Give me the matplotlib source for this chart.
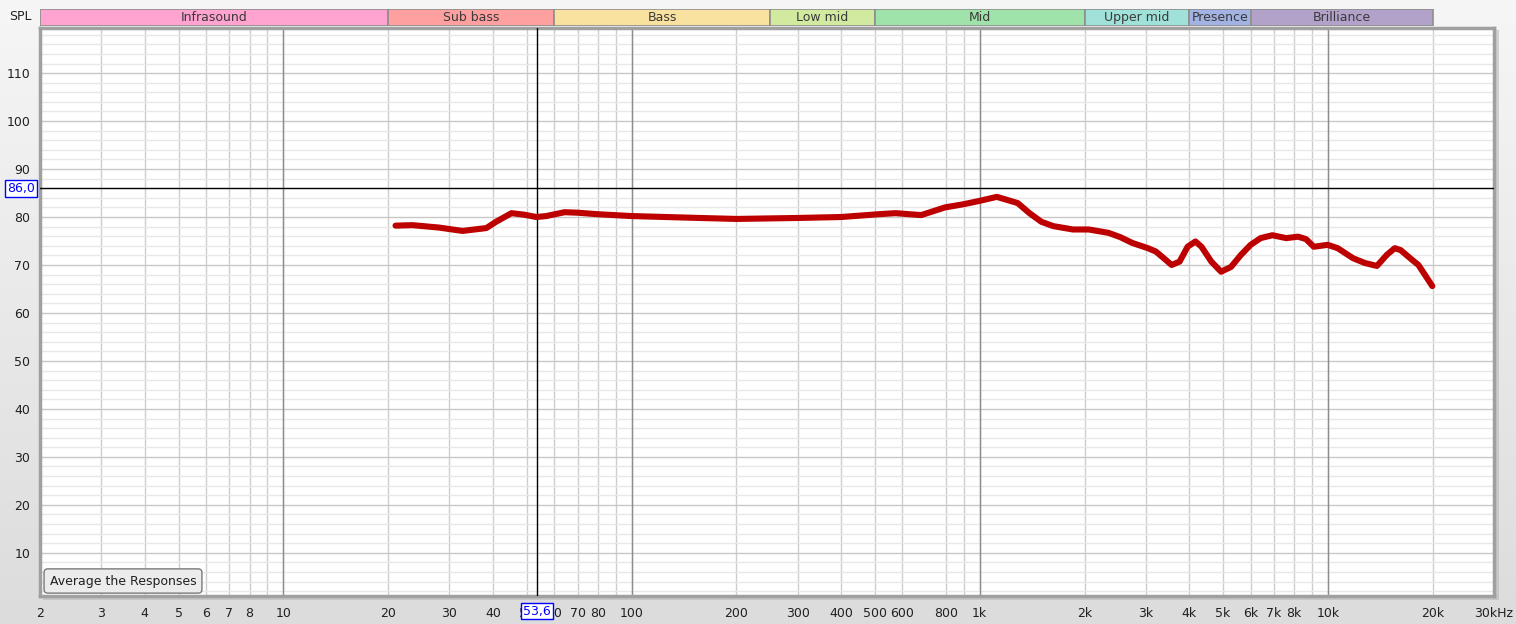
import matplotlib
matplotlib.use("Agg")
import matplotlib.pyplot as plt
from matplotlib.patches import Rectangle
from matplotlib.transforms import blended_transform_factory
import numpy as np

plt.rcParams['font.family'] = ['DejaVu Sans']

##### Dados #####
freq = [21, 23.5, 28, 32.7, 38.3, 40.8, 45.2, 49, 53.3, 56.9, 64.2, 70, 79.2, 100,
        157, 200, 300, 400, 516, 573, 679, 795, 904, 1004, 1120, 1286, 1390, 1504,
        1627, 1853, 2058, 2343, 2535, 2742, 3042, 3206, 3380, 3558, 3750, 3954,
        4165, 4335, 4627, 4934, 5270, 5627, 6000, 6410, 6930, 7590, 8210, 8650,
        9110, 9980, 10670, 11820, 12790, 13830, 14760, 15560, 16180, 17500, 18200,
        19950]
spl = [78.2, 78.3, 77.8, 77.1, 77.7, 79.0, 80.8, 80.5, 80.0, 80.2, 81.0, 80.9, 80.6, 80.2,
       79.8, 79.6, 79.8, 80.0, 80.6, 80.8, 80.4, 82.0, 82.7, 83.4, 84.2, 82.9, 80.8, 79.0,
       78.1, 77.4, 77.4, 76.7, 75.8, 74.6, 73.5, 72.8, 71.4, 70.0, 70.7, 73.8,
       74.9, 73.8, 70.7, 68.6, 69.6, 72.1, 74.2, 75.6, 76.2, 75.6, 75.9, 75.4,
       73.8, 74.2, 73.5, 71.4, 70.4, 69.8, 72.1, 73.5, 73.1, 71.0, 70.0,
       65.6]

bandNames = ['Infrasound', 'Sub bass', 'Bass', 'Low mid', 'Mid', 'Upper mid', 'Presence', 'Brilliance']
bandEdges = [2, 20, 60, 250, 500, 2000, 4000, 6000, 20000]
bandColors = ['#ffa3d1', '#ffa0a0', '#f9e1a0', '#d2eaa0', '#a0e3aa', '#a0e1d9', '#a2b2e2', '#b2a2c9']

xTicks = [2, 3, 4, 5, 6, 7, 8, 10, 20, 30, 40, 50, 60, 70, 80, 100, 200, 300, 400, 500, 600,
          800, 1000, 2000, 3000, 4000, 5000, 6000, 7000, 8000, 10000, 20000, 30000]
xLabels = ['2', '3', '4', '5', '6', '7', '8', '10', '20', '30', '40', '50', '60', '70', '80',
           '100', '200', '300', '400', '500', '600', '800', '1k', '2k', '3k', '4k', '5k', '6k',
           '7k', '8k', '10k', '20k', '30kHz']
xExtra = [9, 90, 900, 9000]
decades = [10, 100, 1000, 10000]
yTicks = [10, 20, 30, 40, 50, 60, 70, 80, 90, 100, 110]

cursorX = 53.6
cursorY = 86.0

##### Figura #####
W, H = 1516, 624
fig = plt.figure(figsize=(W / 100, H / 100), dpi=100)

# fundo em degrade
bg = fig.add_axes([0, 0, 1, 1], zorder=-10)
grad = np.linspace(0, 1, 256).reshape(-1, 1)
bg.imshow(grad, aspect='auto', cmap=matplotlib.colors.LinearSegmentedColormap.from_list(
    'g', ['#f6f6f6', '#dcdcdc']), extent=[0, 1, 0, 1])
bg.set_axis_off()

def box(x0, y0, x1, y1):
    return [x0 / W, 1 - y1 / H, (x1 - x0) / W, (y1 - y0) / H]

# sombra do quadro
fig.patches.append(Rectangle((43 / W, 1 - 600 / H), 1456 / W, 570 / H,
                             transform=fig.transFigure, fc='#b8b8b8', ec='none', alpha=0.6, zorder=-5))

ax = fig.add_axes(box(40, 28, 1494, 596))
ax.set_xscale('log')
ax.set_xlim(2, 30000)
ax.set_ylim(1.0, 119.4)
ax.set_facecolor('white')

ax.set_xticks(xTicks)
ax.set_xticklabels(xLabels)
ax.set_xticks(xExtra, minor=True)
ax.set_yticks(yTicks)
ax.set_yticks(np.arange(2, 120, 2), minor=True)
ax.tick_params(which='both', length=0)
ax.tick_params(axis='x', pad=8, labelsize=9, labelcolor='#202020')
ax.tick_params(axis='y', pad=7, labelsize=9, labelcolor='#202020')
ax.xaxis.set_minor_formatter(matplotlib.ticker.NullFormatter())

ax.yaxis.grid(True, which='minor', color='#e8e8e8', lw=1)
ax.yaxis.grid(True, which='major', color='#c8c8c8', lw=1)
ax.xaxis.grid(True, which='both', color='#cdcdcd', lw=1)
for d in decades:
    ax.axvline(d, color='#8c8c8c', lw=1, zorder=1)
ax.set_axisbelow(True)
for s in ax.spines.values():
    s.set_color('#a0a0a0')
    s.set_linewidth(2.5)

ax.plot(freq, spl, color='#bd0000', lw=4.4, solid_joinstyle='round', solid_capstyle='round', zorder=4)

# cursor
ax.axvline(cursorX, color='black', lw=1, zorder=3)
ax.axhline(cursorY, color='black', lw=1, zorder=3)
ty = blended_transform_factory(ax.transAxes, ax.transData)
ax.text(-19 / 1454, cursorY, '86,0', transform=ty, ha='center', va='center', fontsize=9,
        color='#0000ff', clip_on=False, zorder=10,
        bbox=dict(boxstyle='square,pad=0.15', fc='white', ec='#0000ff', lw=1))
tx = blended_transform_factory(ax.transData, ax.transAxes)
ax.text(cursorX, -15 / 568, '53,6', transform=tx, ha='center', va='center', fontsize=9,
        color='#0000ff', clip_on=False, zorder=10,
        bbox=dict(boxstyle='square,pad=0.15', fc='white', ec='#0000ff', lw=1))

# botao
ax.text(83 / 1454, 15 / 568, 'Average the Responses', transform=ax.transAxes, ha='center',
        va='center', fontsize=9, color='#202020', zorder=10,
        bbox=dict(boxstyle='round,pad=0.45,rounding_size=0.3', fc='#ececec', ec='#7a7a7a', lw=1))

# faixas de frequencia
bx = fig.add_axes(box(40, 9, 1494, 26))
bx.set_xscale('log')
bx.set_xlim(2, 30000)
bx.set_ylim(0, 1)
bx.set_axis_off()
for i, name in enumerate(bandNames):
    lo, hi = bandEdges[i], bandEdges[i + 1]
    bx.add_patch(Rectangle((lo, 0), hi - lo, 1, fc=bandColors[i], ec='#8e8e8e', lw=1.2))
    bx.text(np.sqrt(lo * hi), 0.5, name, ha='center', va='center', fontsize=9, color='#3a3a3a')

fig.text(20 / W, 1 - 17 / H, 'SPL', ha='center', va='center', fontsize=9, color='#202020')

fig.savefig('out.png', dpi=100)
